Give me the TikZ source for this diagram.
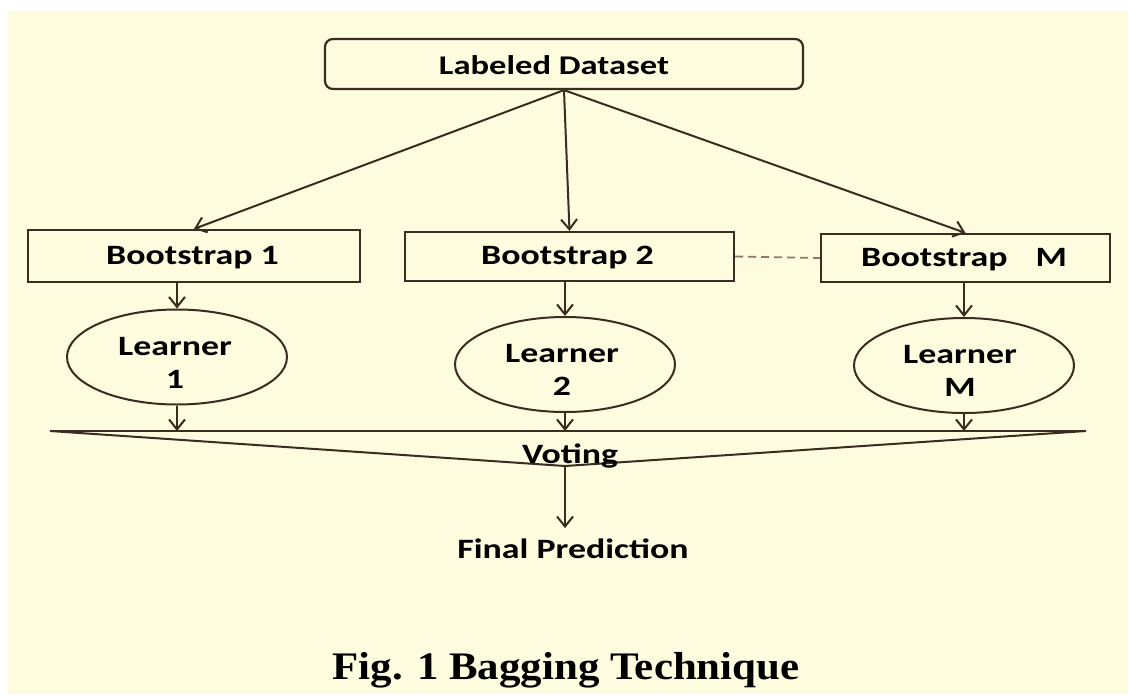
\documentclass[tikz,border=0pt]{standalone}
\usepackage{fontspec}
\setmainfont{Carlito}
\newfontfamily\lblfont{Carlito}[FakeStretch=1.28]
\newfontfamily\capfont{Liberation Serif}[FakeStretch=1.1]
\usetikzlibrary{arrows.meta,shapes.geometric}
\definecolor{paper}{RGB}{254,252,222}
\definecolor{ink}{RGB}{58,44,30}
\definecolor{dashink}{RGB}{150,120,95}
\begin{document}
\begin{tikzpicture}[x=1pt,y=-1pt,
  lbl/.style={font=\lblfont\fontsize{28}{33}\selectfont\bfseries, text=black, inner sep=0pt},
  box/.style={draw=ink, line width=2.2pt, inner sep=0pt},
  learner/.style={ellipse, draw=ink, line width=2pt, minimum width=220pt, minimum height=95pt, inner sep=0pt},
  link/.style={draw=ink, line width=2pt, -{Straight Barb[length=10pt,width=16pt,line width=2pt]}},
  edge/.style={draw=ink, line width=2pt},
]
\useasboundingbox (0,0) rectangle (1128,694);
\fill[paper] (8,11) rectangle (1128,694);

% source data and the bootstrap samples
\node[box, rounded corners=8pt, minimum width=478pt, minimum height=50pt] (data) at (564,64) {};
\node[lbl, font=\lblfont\fontsize{27}{33}\selectfont\bfseries, anchor=base] (datat) at (554,74) {Labeled Dataset};
\node[box, minimum width=332pt, minimum height=52pt] (b1) at (194,256) {};
\node[lbl, anchor=base] (b1t) at (192.5,264) {Bootstrap 1};
\node[box, minimum width=329pt, minimum height=49pt] (b2) at (569.5,256.5) {};
\node[lbl, anchor=base] (b2t) at (567.5,264) {Bootstrap 2};
\node[box, minimum width=289pt, minimum height=48pt] (bm) at (965.5,258) {};
\node[lbl, anchor=base] (bmt) at (964,266) {Bootstrap\quad M};

\draw[link] (data.south) -- (b1.north);
\draw[link] (data.south) -- (b2.north);
\draw[link] (data.south) -- (bm.north);
\draw[dashink, line width=1.8pt, dash pattern=on 8pt off 5pt] (b2.east) -- (bm.west);

% base learners
\node[learner] (l1) at (177,357) {};
\node[lbl, align=center] (l1t) at (175,363) {Learner\\1};
\node[learner] (l2) at (565,364.5) {};
\node[lbl, align=center] (l2t) at (562,370) {Learner\\2};
\node[learner] (lm) at (964,365.5) {};
\node[lbl, align=center] (lmt) at (960,371) {Learner\\M};

\draw[link] (l1.north |- b1.south) -- (l1.north);
\draw[link] (l2.north |- b2.south) -- (l2.north);
\draw[link] (lm.north |- bm.south) -- (lm.north);

% voting wedge
\coordinate (vl) at (50,431);
\coordinate (vr) at (1086,431);
\coordinate (vb) at (565,466);
\draw[edge] (vl) -- (vr);
\draw[edge] (vl) -- (vb) -- (vr);

\draw[link] (l1.south) -- (l1.south |- vl);
\draw[link] (l2.south) -- (l2.south |- vl);
\draw[link] (lm.south) -- (lm.south |- vl);

\node[lbl, anchor=base] (vote) at (570,463) {Voting};
\node[lbl, anchor=base, inner ysep=10pt] (final) at (573,558) {Final Prediction};
\draw[link] (vb) -- (final.north -| vb);

\node[font=\capfont\fontsize{39}{44}\selectfont\bfseries, anchor=base, inner sep=0pt] (cap) at (566,679) {Fig. 1 Bagging Technique};
\end{tikzpicture}
\end{document}
